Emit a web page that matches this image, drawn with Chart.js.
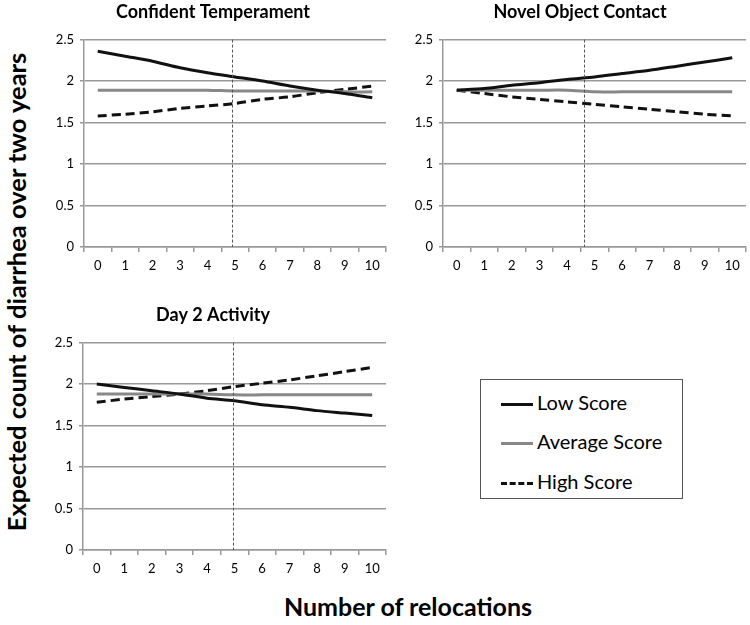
<!DOCTYPE html>
<html>
<head>
<meta charset="utf-8">
<script src="https://cdn.jsdelivr.net/npm/chart.js@4.4.0/dist/chart.umd.min.js"></script>
<style>
  body { margin: 0; background: #fff; font-family: Lato, "Open Sans", sans-serif; }
  #wrap { position: relative; width: 750px; height: 625px; overflow: hidden; }
  .panel { position: absolute; }
  .ytitle {
    position: absolute; left: 16px; top: 292px;
    transform: translate(-50%, -50%) rotate(-90deg);
    white-space: nowrap; font-weight: bold; font-size: 25.5px; color: #000;
  }
  .xtitle {
    position: absolute; left: 408px; top: 606px;
    transform: translate(-50%, -50%);
    white-space: nowrap; font-weight: bold; font-size: 25px; color: #000;
  }
  #legend {
    position: absolute; left: 480px; top: 379px; width: 201px; height: 118px;
    border: 1.5px solid #555;
  }
  .item { position: absolute; left: 20px; height: 24px; font-size: 20px; line-height: 24px; color: #000; }
  .item .swatch { display: inline-block; width: 32px; margin-right: 4px; vertical-align: middle; }
</style>
</head>
<body>
<div id="wrap">
  <div class="panel" style="left:40px; top:0px; width:370px; height:285px;"><canvas id="c1"></canvas></div>
  <div class="panel" style="left:414px; top:0px; width:334px; height:285px;"><canvas id="c2"></canvas></div>
  <div class="panel" style="left:40px; top:303px; width:370px; height:285px;"><canvas id="c3"></canvas></div>

  <div class="ytitle">Expected count of diarrhea over two years</div>
  <div class="xtitle">Number of relocations</div>

  <div id="legend">
    <div class="item" style="top:10px;"><span class="swatch" style="border-top:3px solid #111;"></span>Low Score</div>
    <div class="item" style="top:49px;"><span class="swatch" style="border-top:3px solid #888;"></span>Average Score</div>
    <div class="item" style="top:89px;"><span class="swatch" style="border-top:3px dashed #111;"></span>High Score</div>
  </div>
</div>

<script>
// x categories and y ticks
const relocations = ['0', '1', '2', '3', '4', '5', '6', '7', '8', '9', '10'];
const yMin = 0;
const yMax = 2.5;
const yStep = 0.5;

// Confident Temperament
const confLow  = [2.36, 2.30, 2.24, 2.16, 2.10, 2.05, 2.00, 1.94, 1.89, 1.85, 1.80];
const confAvg  = [1.89, 1.89, 1.89, 1.89, 1.89, 1.88, 1.88, 1.88, 1.88, 1.87, 1.87];
const confHigh = [1.58, 1.60, 1.63, 1.67, 1.70, 1.73, 1.78, 1.81, 1.86, 1.90, 1.94];

// Novel Object Contact
const novelLow  = [1.89, 1.91, 1.95, 1.98, 2.02, 2.05, 2.09, 2.13, 2.18, 2.23, 2.28];
const novelAvg  = [1.89, 1.89, 1.89, 1.89, 1.89, 1.87, 1.87, 1.87, 1.87, 1.87, 1.87];
const novelHigh = [1.89, 1.85, 1.81, 1.78, 1.75, 1.72, 1.69, 1.66, 1.63, 1.60, 1.58];

// Day 2 Activity
const dayLow  = [2.00, 1.96, 1.92, 1.88, 1.83, 1.80, 1.75, 1.72, 1.68, 1.65, 1.62];
const dayAvg  = [1.88, 1.88, 1.88, 1.88, 1.88, 1.87, 1.87, 1.87, 1.87, 1.87, 1.87];
const dayHigh = [1.78, 1.82, 1.85, 1.88, 1.92, 1.97, 2.01, 2.05, 2.10, 2.15, 2.20];

// mean relocations marker (x position, in categories)
const meanMarker = [4.9, 4.62, 4.95];

const seriesNames = ['Low Score', 'Average Score', 'High Score'];

// draws the thin dashed vertical line at the mean
const meanLinePlugin = {
  id: 'meanLine',
  afterDatasetsDraw(chart, args, opts) {
    const x = chart.scales.x.getPixelForValue(opts.value);
    const { top, bottom } = chart.chartArea;
    const ctx = chart.ctx;
    ctx.save();
    ctx.strokeStyle = '#555';
    ctx.lineWidth = 1;
    ctx.setLineDash([3, 2]);
    ctx.beginPath();
    ctx.moveTo(Math.round(x) + 0.5, top);
    ctx.lineTo(Math.round(x) + 0.5, bottom);
    ctx.stroke();
    ctx.restore();
  }
};

function makePanel(id, title, low, avg, high, marker, yWidth, padRight) {
  const ctx = document.getElementById(id).getContext('2d');
  return new Chart(ctx, {
    type: 'line',
    data: {
      labels: relocations,
      datasets: [
        { label: seriesNames[0], data: low, borderColor: '#111', borderWidth: 3 },
        { label: seriesNames[1], data: avg, borderColor: '#888', borderWidth: 3 },
        { label: seriesNames[2], data: high, borderColor: '#111', borderWidth: 3, borderDash: [9, 5] }
      ]
    },
    options: {
      responsive: true,
      maintainAspectRatio: false,
      animation: false,
      elements: {
        point: { radius: 0 },
        line: { tension: 0.25, fill: false }
      },
      layout: { padding: { right: padRight } },
      plugins: {
        legend: { display: false },
        tooltip: { enabled: false },
        title: {
          display: true,
          text: title,
          color: '#000',
          font: { family: 'Lato', size: 18, weight: 'bold' },
          padding: { top: 1, bottom: 17 }
        },
        meanLine: { value: marker }
      },
      scales: {
        x: {
          offset: true,
          afterFit: scale => { scale.height = 38; },
          grid: { offset: true, drawOnChartArea: false, drawTicks: true, tickLength: 5, color: '#999', lineWidth: 1.5 },
          border: { color: '#999', width: 1.5 },
          ticks: { color: '#000', font: { family: 'Lato', size: 13 }, padding: 6, maxRotation: 0 }
        },
        y: {
          min: yMin,
          max: yMax,
          afterFit: scale => { scale.width = yWidth; },
          grid: { color: '#999', lineWidth: 1.5, tickLength: 4 },
          border: { color: '#999', width: 1.5 },
          ticks: {
            stepSize: yStep,
            color: '#000',
            font: { family: 'Lato', size: 13 },
            padding: 6,
            callback: value => String(value)
          }
        }
      }
    },
    plugins: [meanLinePlugin]
  });
}

makePanel('c1', 'Confident Temperament', confLow, confAvg, confHigh, meanMarker[0], 44, 24);
makePanel('c2', 'Novel Object Contact', novelLow, novelAvg, novelHigh, meanMarker[1], 29, 2);
makePanel('c3', 'Day 2 Activity', dayLow, dayAvg, dayHigh, meanMarker[2], 43, 24);
</script>
</body>
</html>
